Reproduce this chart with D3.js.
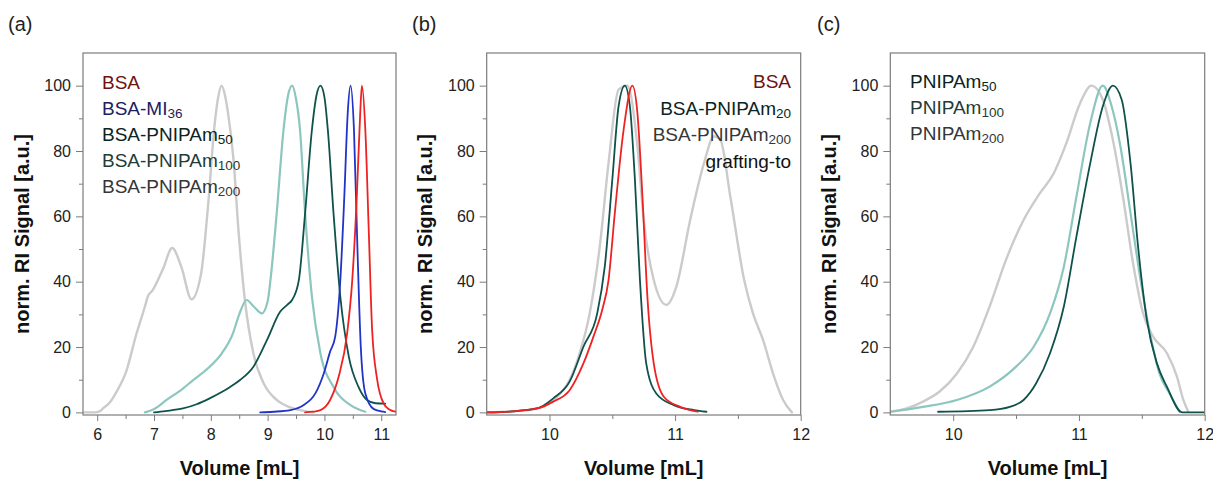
<!DOCTYPE html>
<html><head><meta charset="utf-8">
<script src="https://cdn.jsdelivr.net/npm/d3@7"></script>
<style>body{margin:0;background:#fff;} svg{display:block;font-family:"Liberation Sans",Arial,sans-serif;}</style>
</head><body><svg id="chart" width="1213" height="479"></svg>
<script>
// ---------- DATA ----------
const yTicks = [0, 20, 40, 60, 80, 100];
const yMinor = [10, 30, 50, 70, 90];
const aXTicks = [6, 7, 8, 9, 10, 11];
const aXMinor = [6.5, 7.5, 8.5, 9.5, 10.5];
const bcXTicks = [10, 11, 12];
const bcXMinor = [10.5, 11.5];

// Panel (a)
const aP200V = [5.75, 5.95, 6.05, 6.1, 6.22, 6.34, 6.51, 6.69, 6.84, 6.89, 6.98, 7.16, 7.32, 7.48, 7.66, 7.83, 7.95, 8.07, 8.13, 8.19, 8.25, 8.3, 8.4, 8.49, 8.6, 8.75, 8.93, 9.16, 9.4, 9.6, 9.8];
const aP200S = [0, 0, 0.4, 1.2, 3, 6.3, 12.5, 24, 32.4, 35.4, 37.5, 44, 50.3, 44.6, 34.6, 42.6, 63, 88.6, 96.5, 100, 97, 92, 77.3, 55, 34.4, 18, 8.9, 3.8, 1.5, 0.6, 0];
const aP100V = [6.84, 7.0, 7.22, 7.45, 7.69, 7.95, 8.19, 8.39, 8.5, 8.63, 8.75, 8.9, 9.0, 9.05, 9.16, 9.28, 9.36, 9.43, 9.5, 9.57, 9.66, 9.78, 9.93, 10.16, 10.46, 10.72];
const aP100S = [0, 1, 3.8, 6.5, 9.9, 13.5, 18, 24.2, 30, 34.4, 32.5, 30.3, 34, 40.5, 61, 86.5, 97, 100, 96, 86.5, 61, 35.4, 18, 7.8, 2.2, 0.2];
const aP50V = [7.0, 7.2, 7.51, 7.75, 7.98, 8.2, 8.34, 8.52, 8.75, 8.99, 9.22, 9.35, 9.43, 9.55, 9.66, 9.78, 9.86, 9.93, 10.0, 10.06, 10.16, 10.28, 10.43, 10.6, 10.75, 10.9, 11.07];
const aP50S = [0, 0.4, 1.2, 2.5, 4.3, 6.3, 7.8, 10, 14, 22.2, 30.8, 33, 34.4, 40.5, 61, 86.5, 97, 100, 96.5, 86.5, 61, 35.4, 17, 7.8, 3.8, 2.8, 2.7];
const aMIV = [8.87, 9.1, 9.4, 9.63, 9.84, 9.99, 10.1, 10.19, 10.28, 10.35, 10.41, 10.46, 10.52, 10.58, 10.64, 10.72, 10.87, 11.04, 11.07];
const aMIS = [0, 0.2, 0.7, 2.2, 5.8, 12, 18.6, 23.2, 40.5, 66, 91.6, 100, 86.5, 50.8, 20.1, 5.8, 1.0, 0.2, 0.1];
const aBSAV = [9.66, 9.8, 9.93, 10.1, 10.25, 10.4, 10.49, 10.57, 10.63, 10.66, 10.72, 10.78, 10.84, 10.93, 11.04, 11.15, 11.25];
const aBSAS = [0, 0.2, 0.7, 3.8, 10.9, 24.2, 40.5, 66, 91.6, 100, 86.5, 55.9, 25.2, 9.9, 2.8, 0.8, 0.2];

// Panel (b)
const bP200V = [9.5, 9.7, 9.9, 10.03, 10.16, 10.24, 10.32, 10.4, 10.47, 10.55, 10.62, 10.7, 10.75, 10.83, 10.93, 11.01, 11.12, 11.23, 11.31, 11.36, 11.44, 11.55, 11.62, 11.7, 11.78, 11.86, 11.93];
const bP200S = [0, 0.3, 1.2, 3.8, 9.9, 18.1, 30.3, 50.7, 76.3, 98.8, 100, 81.4, 58.9, 40.5, 32.9, 38.5, 58.9, 76.3, 84.5, 83.5, 66, 40.5, 30.3, 22.2, 11.9, 3.8, 0];
const bP20V = [9.5, 9.7, 9.9, 10.03, 10.16, 10.27, 10.38, 10.44, 10.5, 10.55, 10.6, 10.64, 10.68, 10.72, 10.77, 10.85, 10.99, 11.15, 11.25];
const bP20S = [0, 0.3, 1.2, 4.3, 9.4, 20.1, 30.3, 44.6, 71.2, 93.7, 100, 93.7, 71.2, 40.5, 15, 5.8, 2.2, 0.7, 0.2];
const bBSAV = [9.5, 9.7, 9.9, 10.03, 10.16, 10.27, 10.35, 10.42, 10.47, 10.52, 10.59, 10.66, 10.7, 10.74, 10.78, 10.83, 10.91, 11.04, 11.18];
const bBSAS = [0, 0.3, 1.2, 3.3, 6.8, 15, 23.2, 31.4, 40.5, 61, 86.5, 100, 91.6, 66, 35, 15, 4.8, 1.7, 0.2];

// Panel (c)
const cP200V = [9.5, 9.63, 9.76, 9.89, 10.03, 10.16, 10.29, 10.42, 10.56, 10.69, 10.8, 10.9, 11.01, 11.1, 11.19, 11.27, 11.35, 11.43, 11.51, 11.59, 11.7, 11.78, 11.83, 11.87];
const cP200S = [0.2, 1.2, 3.3, 6.3, 11.9, 20.1, 32.4, 46.7, 58.9, 67.1, 73.2, 82.4, 94.7, 100, 95.7, 83.4, 66, 45.7, 30.3, 23.2, 18.1, 10.9, 3.8, 0.2];
const cP100V = [9.5, 9.76, 10.03, 10.29, 10.5, 10.64, 10.77, 10.88, 10.98, 11.09, 11.19, 11.26, 11.33, 11.41, 11.49, 11.57, 11.64, 11.72, 11.8];
const cP100S = [0.2, 1.7, 3.8, 7.9, 14, 20.1, 30.3, 44.6, 66, 88.6, 100, 93.7, 81.4, 61, 40.5, 23.2, 11.9, 5.8, 0.2];
const cP50V = [9.88, 10.29, 10.45, 10.56, 10.66, 10.77, 10.88, 10.98, 11.09, 11.19, 11.27, 11.34, 11.41, 11.47, 11.54, 11.62, 11.7, 11.82, 12.0];
const cP50S = [0.2, 0.7, 1.7, 3.8, 8.9, 18.1, 32.4, 53.8, 76.3, 93.7, 100, 95.7, 76.3, 50.8, 28.3, 15, 7.8, 0, 0];

// Legend texts
const aLegendMain = ["BSA", "BSA-MI", "BSA-PNIPAm", "BSA-PNIPAm", "BSA-PNIPAm"];
const aLegendSub = ["", "36", "50", "100", "200"];
const bLegendMain = ["BSA", "BSA-PNIPAm", "BSA-PNIPAm", "grafting-to"];
const bLegendSub = ["", "20", "200", ""];
const cLegendMain = ["PNIPAm", "PNIPAm", "PNIPAm"];
const cLegendSub = ["50", "100", "200"];

const xTitle = "Volume [mL]";
const yTitle = "norm. RI Signal [a.u.]";
const panelLabels = ["(a)", "(b)", "(c)"];

// ---------- STYLE ----------
const C = {
  red: "#ee2222", blue: "#2233c8", dark: "#0f514b", light: "#8cc6bf", gray: "#cbcbcb",
  tRed: "#6e1212", tBlue: "#1c2060", tDark: "#0a2421", tLight: "#1f3c36", tGray: "#363636", tBlack: "#111"
};
const plotTop = 53, plotBottom = 415;

const panels = [
  { label: panelLabels[0], lx: 8, left: 83, right: 396, xdom: [5.75, 11.26], xt: aXTicks, xm: aXMinor, ytx: 29,
    series: [
      { v: aP200V, s: aP200S, c: C.gray, w: 2.4 },
      { v: aP100V, s: aP100S, c: C.light, w: 2.2 },
      { v: aP50V, s: aP50S, c: C.dark, w: 1.8 },
      { v: aMIV, s: aMIS, c: C.blue, w: 1.8 },
      { v: aBSAV, s: aBSAS, c: C.red, w: 1.8 }
    ],
    legend: { main: aLegendMain, sub: aLegendSub, colors: [C.tRed, C.tBlue, C.tDark, C.tLight, C.tGray], x: 102, anchor: "start", y0: 89, dy: 26 } },
  { label: panelLabels[1], lx: 412, left: 486.7, right: 800.7, xdom: [9.5, 12], xt: bcXTicks, xm: bcXMinor, ytx: 432,
    series: [
      { v: bP200V, s: bP200S, c: C.gray, w: 2.4 },
      { v: bP20V, s: bP20S, c: C.dark, w: 1.8 },
      { v: bBSAV, s: bBSAS, c: C.red, w: 1.8 }
    ],
    legend: { main: bLegendMain, sub: bLegendSub, colors: [C.tRed, C.tDark, C.tGray, C.tBlack], x: 791, anchor: "end", y0: 88, dy: 26.5 } },
  { label: panelLabels[2], lx: 817, left: 890.3, right: 1204.7, xdom: [9.5, 12], xt: bcXTicks, xm: bcXMinor, ytx: 836,
    series: [
      { v: cP200V, s: cP200S, c: C.gray, w: 2.4 },
      { v: cP100V, s: cP100S, c: C.light, w: 2.2 },
      { v: cP50V, s: cP50S, c: C.dark, w: 1.8 }
    ],
    legend: { main: cLegendMain, sub: cLegendSub, colors: [C.tDark, C.tLight, C.tGray], x: 910, anchor: "start", y0: 88, dy: 26 } }
];

const svg = d3.select("#chart");
const axisCol = "#7c7c7c";

panels.forEach(p => {
  const x = d3.scaleLinear().domain(p.xdom).range([p.left, p.right]);
  const y = d3.scaleLinear().domain([-0.8, 110]).range([plotBottom, plotTop]);
  const g = svg.append("g");

  g.append("text").attr("x", p.lx).attr("y", 31).attr("font-size", 20).attr("fill", "#222").text(p.label);

  const styleAxis = sel => {
    sel.select(".domain").remove();
    sel.selectAll(".tick line").attr("stroke", axisCol).attr("stroke-width", 1);
    sel.selectAll(".tick text").attr("font-size", 16).attr("fill", "#222").attr("font-family", "'Liberation Sans',Arial,sans-serif");
  };
  g.append("g").attr("transform", `translate(${p.left},0)`)
    .call(d3.axisLeft(y).tickValues(yTicks).tickSize(7).tickPadding(5)).call(styleAxis);
  g.append("g").attr("transform", `translate(${p.left},0)`)
    .call(d3.axisLeft(y).tickValues(yMinor).tickSize(4).tickFormat("")).call(styleAxis);
  g.append("g").attr("transform", `translate(0,${plotBottom})`)
    .call(d3.axisBottom(x).tickValues(p.xt).tickSize(6).tickPadding(8).tickFormat(d3.format("d"))).call(styleAxis);
  g.append("g").attr("transform", `translate(0,${plotBottom})`)
    .call(d3.axisBottom(x).tickValues(p.xm).tickSize(4).tickFormat("")).call(styleAxis);

  const cid = "clip" + p.lx;
  svg.append("clipPath").attr("id", cid).append("rect")
    .attr("x", p.left).attr("y", plotTop).attr("width", p.right - p.left).attr("height", plotBottom - plotTop);

  const line = d3.line().x(d => x(d[0])).y(d => y(d[1])).curve(d3.curveMonotoneX);
  p.series.forEach(s => {
    g.append("path").attr("clip-path", `url(#${cid})`)
      .datum(s.v.map((v, i) => [v, s.s[i]]))
      .attr("d", line).attr("fill", "none").attr("stroke", s.c)
      .attr("stroke-width", s.w).attr("stroke-linejoin", "round").attr("stroke-linecap", "round");
  });

  g.append("rect").attr("x", p.left).attr("y", plotTop).attr("width", p.right - p.left).attr("height", plotBottom - plotTop)
    .attr("fill", "none").attr("stroke", axisCol).attr("stroke-width", 1.2);

  g.append("text").attr("x", (p.left + p.right) / 2).attr("y", 475).attr("text-anchor", "middle")
    .attr("font-size", 20).attr("font-weight", "bold").attr("fill", "#111").text(xTitle);
  g.append("text").attr("transform", `translate(${p.ytx},${(plotTop + plotBottom) / 2}) rotate(-90)`)
    .attr("text-anchor", "middle").attr("font-size", 20).attr("font-weight", "bold").attr("fill", "#111").text(yTitle);

  const L = p.legend;
  L.main.forEach((m, i) => {
    const t = g.append("text").attr("x", L.x).attr("y", L.y0 + i * L.dy)
      .attr("text-anchor", L.anchor).attr("font-size", 19).attr("fill", L.colors[i]);
    t.append("tspan").text(m);
    if (L.sub[i]) t.append("tspan").attr("dy", 3).attr("font-size", 13.5).text(L.sub[i]);
  });
});
</script>
</body></html>
